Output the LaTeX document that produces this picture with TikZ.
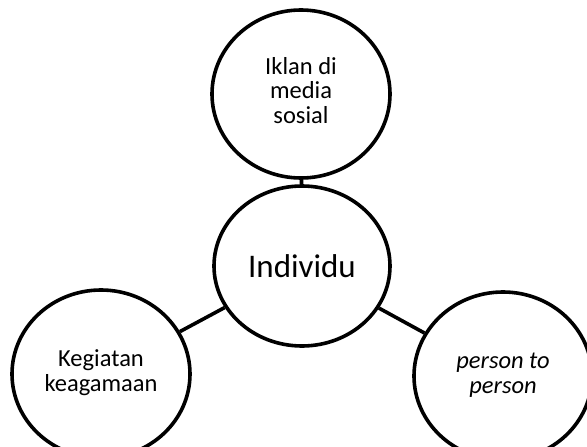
\documentclass[tikz,border=0pt]{standalone}
\usepackage{fontspec}
\setmainfont{Carlito}
\usetikzlibrary{shapes.geometric}
\begin{document}
\begin{tikzpicture}[x=1pt,y=-1pt,
  bubble/.style={draw=black, line width=3.6pt, ellipse, inner sep=0pt,
    minimum width=178pt, minimum height=168pt, align=center,
    font=\fontsize{24.5}{24.5}\selectfont},
  link/.style={draw=black, line width=3.6pt}]
\useasboundingbox (0,0) rectangle (587,447);
\node[bubble] (top) at (301,94) {\raisebox{5pt}{\begin{tabular}{@{}c@{}}Iklan di\\media\\sosial\end{tabular}}};
\node[bubble, minimum width=176pt, minimum height=160pt,
  font=\fontsize{33}{33}\selectfont] (mid) at (302,266) {Individu};
\node[bubble] (left) at (101,374) {\raisebox{4pt}{\begin{tabular}{@{}c@{}}Kegiatan\\keagamaan\end{tabular}}};
\node[bubble, font=\fontsize{24.5}{24.5}\selectfont\itshape] (right) at (503,376) {\raisebox{4pt}{\begin{tabular}{@{}c@{}}person to\\person\end{tabular}}};
\draw[link] (top) -- (mid);
\draw[link] (mid) -- (left);
\draw[link] (mid) -- (right);
\end{tikzpicture}
\end{document}
